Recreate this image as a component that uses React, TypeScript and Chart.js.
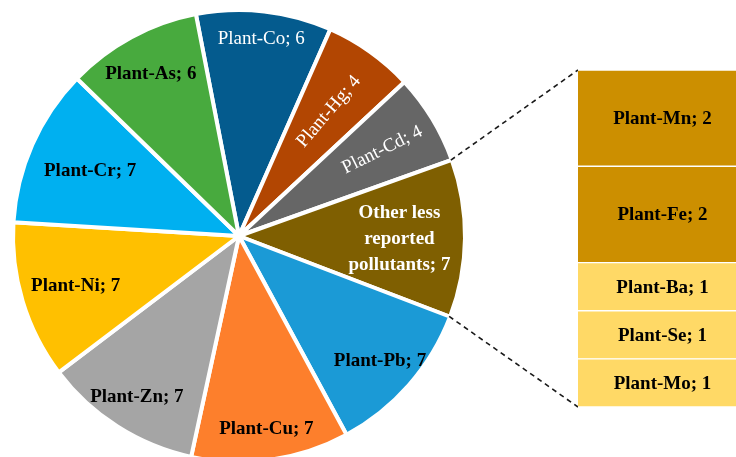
import React, { useEffect, useRef } from "react";
import { Chart, registerables } from "chart.js";

Chart.register(...registerables);

// Pie: number of studies per plant–pollutant pair (clockwise from the top)
const pieLabels = [
  "Plant-Co",
  "Plant-Hg",
  "Plant-Cd",
  "Other less\nreported\npollutants",
  "Plant-Pb",
  "Plant-Cu",
  "Plant-Zn",
  "Plant-Ni",
  "Plant-Cr",
  "Plant-As",
];
const pieValues = [6, 4, 4, 7, 7, 7, 7, 7, 7, 6];
const pieColors = [
  "#045b8e",
  "#b24602",
  "#666666",
  "#7f5f01",
  "#1b9ad6",
  "#fd7f2c",
  "#a5a5a5",
  "#ffc000",
  "#00b0f0",
  "#48aa3e",
];

// Breakdown of "Other less reported pollutants" (stacked bottom to top)
const barLabels = ["Plant-Mo", "Plant-Se", "Plant-Ba", "Plant-Fe", "Plant-Mn"];
const barValues = [1, 1, 1, 2, 2];
const barColors = ["#ffd966", "#ffd966", "#ffd966", "#cc8f00", "#cc8f00"];

// Label styling for the pie slices
const labelRadius = [0.88, 0.68, 0.74, 0.71, 0.83, 0.86, 0.84, 0.755, 0.72, 0.82];
const labelColor = ["#fff", "#fff", "#fff", "#fff", "#000", "#000", "#000", "#000", "#000", "#000"];
const labelBold = [false, false, false, true, true, true, true, true, true, true];
const labelRadial = [false, true, true, false, false, false, false, false, false, false];

const FONT = '"Liberation Serif", "Times New Roman", serif';
const FONT_SIZE = 19;

// Layout of the two canvases on the page
const W = 736;
const H = 457;
const BAR_LEFT = 578;
const BAR_TOP = 70;
const BAR_W = 169;
const BAR_H = 337;

export default function App() {
  const pieRef = useRef<HTMLCanvasElement | null>(null);
  const barRef = useRef<HTMLCanvasElement | null>(null);

  useEffect(() => {
    if (!pieRef.current || !barRef.current) return;

    const barTotal = barValues.reduce((a, b) => a + b, 0);

    const barLabelPlugin = {
      id: "barSegmentLabels",
      afterDatasetsDraw(chart: any) {
        const ctx = chart.ctx;
        ctx.save();
        ctx.font = `bold ${FONT_SIZE}px ${FONT}`;
        ctx.fillStyle = "#000";
        ctx.textAlign = "center";
        ctx.textBaseline = "middle";
        chart.data.datasets.forEach((ds: any, i: number) => {
          const el = chart.getDatasetMeta(i).data[0] as any;
          const { x, y, base } = el.getProps(["x", "y", "base"], true);
          ctx.fillText(`${ds.label}; ${ds.data[0]}`, x, (y + base) / 2 + 1);
        });
        ctx.restore();
      },
    };

    const barChart = new Chart(barRef.current, {
      type: "bar",
      data: {
        labels: [""],
        datasets: barLabels.map((label, i) => ({
          label,
          data: [barValues[i]],
          backgroundColor: barColors[i],
          borderColor: "#ffffff",
          borderWidth: { top: 1, bottom: 1, left: 0, right: 0 },
          borderSkipped: false,
          barPercentage: 1,
          categoryPercentage: 1,
        })),
      },
      options: {
        animation: false,
        responsive: false,
        maintainAspectRatio: false,
        layout: { padding: 0 },
        plugins: { legend: { display: false }, tooltip: { enabled: false } },
        scales: {
          x: { stacked: true, display: false },
          y: { stacked: true, display: false, min: 0, max: barTotal },
        },
      },
      plugins: [barLabelPlugin],
    });

    const pieLabelPlugin = {
      id: "pieSliceLabels",
      afterDatasetsDraw(chart: any) {
        const ctx = chart.ctx;
        const meta = chart.getDatasetMeta(0);
        ctx.save();
        ctx.textAlign = "center";
        ctx.textBaseline = "middle";
        meta.data.forEach((arc: any, i: number) => {
          const { x, y, startAngle, endAngle, outerRadius } = arc.getProps(
            ["x", "y", "startAngle", "endAngle", "outerRadius"],
            true
          );
          const mid = (startAngle + endAngle) / 2;
          const r = outerRadius * labelRadius[i];
          const lx = x + Math.cos(mid) * r;
          const ly = y + Math.sin(mid) * r;
          const lines = pieLabels[i].split("\n");
          lines[lines.length - 1] += `; ${pieValues[i]}`;
          ctx.font = `${labelBold[i] ? "bold " : ""}${FONT_SIZE}px ${FONT}`;
          ctx.fillStyle = labelColor[i];
          ctx.save();
          ctx.translate(lx, ly);
          if (labelRadial[i]) ctx.rotate(mid + (5 * Math.PI) / 180);
          const lh = 26;
          lines.forEach((line, k) => {
            ctx.fillText(line, 0, (k - (lines.length - 1) / 2) * lh + 1);
          });
          ctx.restore();
        });

        // Dashed connectors from the "other" slice to the breakdown bar
        const other = meta.data[3] as any;
        const o = other.getProps(["x", "y", "startAngle", "endAngle", "outerRadius"], true);
        const ys = barChart.scales.y;
        const bx = BAR_LEFT + barChart.chartArea.left;
        const topY = BAR_TOP + ys.getPixelForValue(barTotal);
        const botY = BAR_TOP + ys.getPixelForValue(0);
        const rr = o.outerRadius - 1;
        ctx.strokeStyle = "#1a1a1a";
        ctx.lineWidth = 1.6;
        ctx.setLineDash([5, 4]);
        ctx.beginPath();
        ctx.moveTo(o.x + Math.cos(o.startAngle) * rr, o.y + Math.sin(o.startAngle) * rr);
        ctx.lineTo(bx, topY);
        ctx.moveTo(o.x + Math.cos(o.endAngle) * rr, o.y + Math.sin(o.endAngle) * rr);
        ctx.lineTo(bx, botY);
        ctx.stroke();
        ctx.restore();
      },
    };

    const pieChart = new Chart(pieRef.current, {
      type: "pie",
      data: {
        labels: pieLabels,
        datasets: [
          {
            data: pieValues,
            backgroundColor: pieColors,
            borderColor: "#ffffff",
            borderWidth: 4,
          },
        ],
      },
      options: {
        animation: false,
        responsive: false,
        maintainAspectRatio: false,
        rotation: -11,
        layout: { padding: { left: 11, top: 8, right: W - 467, bottom: 6 } },
        plugins: { legend: { display: false }, tooltip: { enabled: false } },
      },
      plugins: [pieLabelPlugin],
    });

    return () => {
      pieChart.destroy();
      barChart.destroy();
    };
  }, []);

  return (
    <div
      style={{
        position: "fixed",
        left: 0,
        top: 0,
        width: W,
        height: H,
        overflow: "hidden",
        background: "#ffffff",
      }}
    >
      <canvas
        ref={pieRef}
        width={W}
        height={470}
        style={{ position: "absolute", left: 0, top: 0 }}
      />
      <canvas
        ref={barRef}
        width={BAR_W}
        height={BAR_H}
        style={{ position: "absolute", left: BAR_LEFT, top: BAR_TOP }}
      />
    </div>
  );
}
